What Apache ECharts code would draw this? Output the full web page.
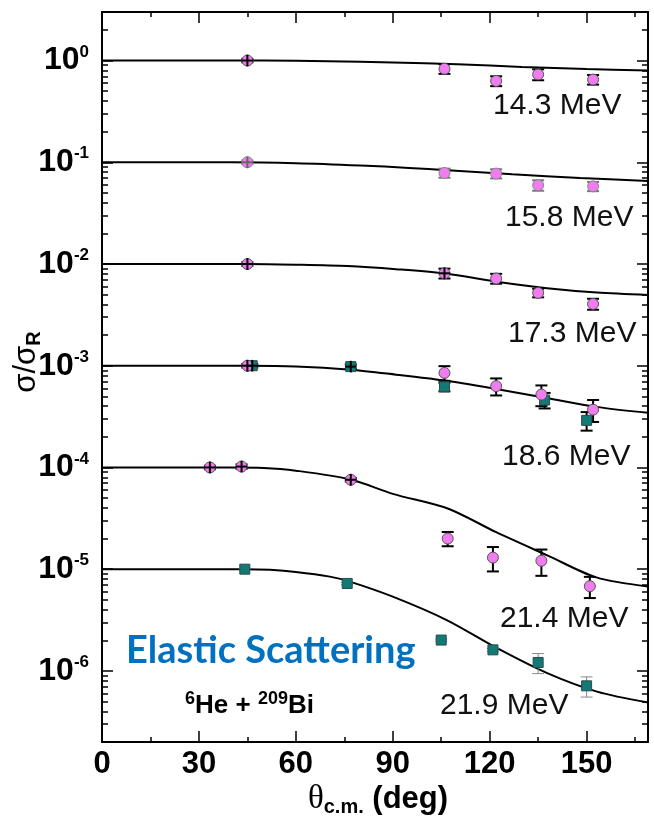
<!DOCTYPE html>
<html><head><meta charset="utf-8">
<script src="https://cdn.jsdelivr.net/npm/echarts@6/dist/echarts.min.js"></script>
<style>html,body{margin:0;padding:0;background:#fff}#c{width:654px;height:826px}</style>
</head><body><div id="c"></div>
<script>
// ---------------- data ----------------
const xMajorTicks = [0, 30, 60, 90, 120, 150];
const xMinorTicks = [15, 45, 75, 105, 135, 165];
const yDecadeExps = [-6, -5, -4, -3, -2, -1, 0];
const energyLabels = ['14.3 MeV', '15.8 MeV', '17.3 MeV', '18.6 MeV', '21.4 MeV', '21.9 MeV'];
const titleText = 'Elastic Scattering';

// theory curves (already offset by decades)
const fit143X = [0, 30, 50, 70, 90, 110, 130, 150, 169];
const fit143Y = [1, 1, 0.998, 0.985, 0.955, 0.92, 0.865, 0.825, 0.80];
const fit158X = [0, 40, 60, 80, 95, 107, 127, 148, 169];
const fit158Y = [0.1, 0.1, 0.098, 0.093, 0.088, 0.0835, 0.0762, 0.070, 0.0656];
const fit173X = [0, 45, 60, 76, 91, 105.6, 122.2, 137.8, 153.2, 169];
const fit173Y = [0.01, 0.01, 0.00985, 0.00955, 0.0089, 0.0081, 0.0067, 0.00578, 0.00524, 0.00497];
const fit186X = [0, 45, 60, 77, 91, 105.5, 122, 137.6, 153, 169];
const fit186Y = [1e-3, 1e-3, 9.85e-4, 9.14e-4, 8.17e-4, 7.18e-4, 5.9e-4, 4.82e-4, 3.94e-4, 3.44e-4];
const fit214X = [0, 40, 50, 60, 77, 90, 107, 122, 138, 153, 169];
const fit214Y = [1e-4, 1e-4, 9.9e-5, 9.3e-5, 7.6e-5, 5.5e-5, 3.95e-5, 2.31e-5, 1.36e-5, 8.3e-6, 6.76e-6];
const fit219X = [0, 44, 52, 60, 70.5, 76.7, 90, 106.7, 122.3, 137.8, 153.2, 169];
const fit219Y = [1e-5, 1e-5, 9.85e-6, 9.4e-6, 8.45e-6, 7.55e-6, 5.37e-6, 3.16e-6, 1.67e-6, 9.5e-7, 6.26e-7, 4.89e-7];

// measured points: angle, value, error, horizontal error (deg)
const p143Theta = [45, 106, 122, 135, 152];
const p143Val = [1.0, 0.83, 0.63, 0.73, 0.65];
const p143Err = [0.04, 0.09, 0.07, 0.09, 0.07];
const p143XErr = [1.8, 0, 0, 0, 0];

const p158Theta = [45, 106, 122, 135, 152];
const p158Val = [0.1, 0.0785, 0.0774, 0.0595, 0.058];
const p158Err = [0.004, 0.008, 0.008, 0.007, 0.006];
const p158XErr = [1.8, 0, 0, 0, 0];

const p173Theta = [45, 106, 122, 135, 152];
const p173Val = [0.01, 0.0081, 0.0072, 0.0052, 0.00405];
const p173Err = [0.0004, 0.0009, 0.0008, 0.0005, 0.0005];
const p173XErr = [1.8, 1.8, 0, 0, 0];

const p186aTheta = [45, 106, 122, 136, 152];
const p186aVal = [1.0e-3, 8.5e-4, 6.3e-4, 5.2e-4, 3.7e-4];
const p186aErr = [4e-5, 1.4e-4, 1.2e-4, 1.2e-4, 9e-5];
const p186aXErr = [1.8, 0, 0, 0, 0];

const p186bTheta = [46.5, 77, 106, 137, 150];
const p186bVal = [1.0e-3, 9.8e-4, 6.2e-4, 4.6e-4, 2.9e-4];
const p186bErr = [4e-5, 5e-5, 6e-5, 8e-5, 6e-5];
const p186bXErr = [1.8, 1.8, 0, 0, 0];

const p214Theta = [33.4, 43.2, 77, 107, 121, 136, 151];
const p214Val = [1.0e-4, 1.02e-4, 7.57e-5, 2.0e-5, 1.3e-5, 1.21e-5, 6.8e-6];
const p214Err = [4e-6, 5e-6, 3e-6, 3.2e-6, 3.5e-6, 3.5e-6, 1.6e-6];
const p214XErr = [1.8, 1.8, 1.8, 0, 0, 0, 0];

const p219Theta = [44.2, 75.9, 105, 121, 135, 150];
const p219Val = [1.0e-5, 7.24e-6, 2.01e-6, 1.61e-6, 1.21e-6, 7.13e-7];
const p219Err = [2e-7, 2e-7, 5e-8, 5e-8, 2.7e-7, 1.6e-7];
const p219XErr = [0, 0, 0, 0, 0, 0];

// ---------------- chart ----------------
const L = v => Math.log10(v);
const Y_MIN = L(2e-7), Y_MAX = L(3), X_MIN = 0, X_MAX = 169;
const PINK = '#F07DF0', TEAL = '#117A76';

const yMinorVals = [];
for (let n = -7; n <= 0; n++) for (let k = 2; k <= 9; k++) {
  const v = L(k * Math.pow(10, n));
  if (v > Y_MIN && v < Y_MAX) yMinorVals.push(v);
}

function fitSeries(xs, ys) {
  return { type: 'line', data: xs.map((x, i) => [x, L(ys[i])]), smooth: 0.3,
    symbol: 'none', showSymbol: false, lineStyle: { color: '#000', width: 2 }, z: 2, silent: true };
}
function markSeries(xs, ys, symbol, color, border, size) {
  return { type: 'scatter', data: xs.map((x, i) => [x, L(ys[i])]), symbol: symbol, symbolSize: size,
    itemStyle: { color: color, borderColor: border, borderWidth: 1, opacity: 1 }, z: 4, silent: true };
}
function errSeries(xs, ys, es, color, lw) {
  return { type: 'custom', z: 3, silent: true,
    data: xs.map((x, i) => [x, L(ys[i] - es[i]), L(ys[i] + es[i])]),
    encode: { x: 0, y: [1, 2] },
    renderItem: function (params, api) {
      const x = api.value(0);
      const p1 = api.coord([x, api.value(2)]), p2 = api.coord([x, api.value(1)]);
      const w = 6, st = { stroke: color, lineWidth: lw };
      return { type: 'group', children: [
        { type: 'line', shape: { x1: p1[0], y1: p1[1], x2: p2[0], y2: p2[1] }, style: st },
        { type: 'line', shape: { x1: p1[0] - w, y1: p1[1], x2: p1[0] + w, y2: p1[1] }, style: st },
        { type: 'line', shape: { x1: p2[0] - w, y1: p2[1], x2: p2[0] + w, y2: p2[1] }, style: st }
      ] };
    } };
}
function crossSeries(xs, ys, xe, color) {
  const d = [];
  xs.forEach((x, i) => { if (xe[i] > 0) d.push([x, L(ys[i]), xe[i]]); });
  return { type: 'custom', z: 5, silent: true, data: d, encode: { x: 0, y: 1 },
    renderItem: function (params, api) {
      const x = api.value(0), y = api.value(1), e = api.value(2);
      const a = api.coord([x - e, y]), b = api.coord([x + e, y]);
      const h = (b[0] - a[0]) / 2, c = api.coord([x, y]);
      const st = { stroke: color, lineWidth: 2 };
      return { type: 'group', children: [
        { type: 'line', shape: { x1: a[0], y1: a[1], x2: b[0], y2: b[1] }, style: st },
        { type: 'line', shape: { x1: c[0], y1: c[1] - h, x2: c[0], y2: c[1] + h }, style: st }
      ] };
    } };
}

const axisLineStyle = { show: true, onZero: false, lineStyle: { color: '#000', width: 2 } };
const noLine = { show: false, onZero: false };
const tickStyle = { color: '#000', width: 1.5 };

function xAx(pos, vals, len, labels) {
  return { type: 'value', position: pos, min: X_MIN, max: X_MAX, gridIndex: 0,
    axisLine: labels !== null ? axisLineStyle : noLine,
    axisTick: { show: true, inside: true, length: len, customValues: vals, lineStyle: tickStyle },
    axisLabel: labels ? { show: true, customValues: xMajorTicks, margin: 7, color: '#000',
      fontFamily: 'Liberation Sans', fontWeight: 'bold', fontSize: 31 } : { show: false },
    splitLine: { show: false }, minorTick: { show: false } };
}
function yAx(pos, vals, len, labels) {
  return { type: 'value', position: pos, min: Y_MIN, max: Y_MAX, gridIndex: 0,
    axisLine: labels !== null ? axisLineStyle : noLine,
    axisTick: { show: true, inside: true, length: len, customValues: vals, lineStyle: tickStyle },
    axisLabel: labels ? { show: true, customValues: yDecadeExps, margin: 13, color: '#000',
      formatter: v => '{b|10}{s|' + Math.round(v) + '}',
      rich: { b: { fontFamily: 'Liberation Sans', fontWeight: 'bold', fontSize: 32, lineHeight: 34, color: '#000' },
              s: { fontFamily: 'Liberation Sans', fontWeight: 'bold', fontSize: 17, lineHeight: 26, verticalAlign: 'top', color: '#000' } } }
      : { show: false },
    splitLine: { show: false }, minorTick: { show: false } };
}

const series = [
  fitSeries(fit143X, fit143Y), fitSeries(fit158X, fit158Y), fitSeries(fit173X, fit173Y),
  fitSeries(fit186X, fit186Y), fitSeries(fit214X, fit214Y), fitSeries(fit219X, fit219Y),
  errSeries(p143Theta, p143Val, p143Err, '#000', 2),
  errSeries(p158Theta, p158Val, p158Err, '#777', 2),
  errSeries(p173Theta, p173Val, p173Err, '#000', 2),
  errSeries(p186aTheta, p186aVal, p186aErr, '#000', 2),
  errSeries(p186bTheta, p186bVal, p186bErr, '#000', 2),
  errSeries(p214Theta, p214Val, p214Err, '#000', 2),
  errSeries(p219Theta, p219Val, p219Err, '#888', 1),
  markSeries(p143Theta, p143Val, 'circle', PINK, '#555', 11),
  markSeries(p158Theta, p158Val, 'circle', PINK, '#888', 11),
  markSeries(p173Theta, p173Val, 'circle', PINK, '#555', 11),
  markSeries(p186bTheta, p186bVal, 'rect', TEAL, '#2b4b4a', 10),
  markSeries(p186aTheta, p186aVal, 'circle', PINK, '#555', 11),
  markSeries(p214Theta, p214Val, 'circle', PINK, '#555', 11),
  markSeries(p219Theta, p219Val, 'rect', TEAL, '#2b4b4a', 10),
  crossSeries(p143Theta, p143Val, p143XErr, '#000'),
  crossSeries(p158Theta, p158Val, p158XErr, '#666'),
  crossSeries(p173Theta, p173Val, p173XErr, '#000'),
  crossSeries(p186aTheta, p186aVal, p186aXErr, '#000'),
  crossSeries(p186bTheta, p186bVal, p186bXErr, '#000'),
  crossSeries(p214Theta, p214Val, p214XErr, '#000')
];

const labelPos = [[493, 106], [505, 218], [508, 334], [502, 457], [500, 619], [440, 706]];
const graphics = energyLabels.map((t, i) => ({ type: 'text', x: labelPos[i][0], y: labelPos[i][1], z: 10,
  style: { text: t, fill: '#111', fontFamily: 'Liberation Sans', fontSize: 30, align: 'left', verticalAlign: 'middle' } }));
graphics.push({ type: 'text', x: 126, y: 651, z: 10,
  style: { text: titleText, fill: '#0070C0', fontFamily: 'Lato', fontWeight: 'bold', fontSize: 38, align: 'left', verticalAlign: 'middle' } });
graphics.push({ type: 'text', x: 185, y: 706, z: 10,
  style: { text: '{s|6}{m|He + }{s|209}{m|Bi}', align: 'left', verticalAlign: 'middle',
    rich: { s: { fontFamily: 'Liberation Sans', fontWeight: 'bold', fontSize: 18, lineHeight: 32, verticalAlign: 'top', fill: '#000' },
            m: { fontFamily: 'Liberation Sans', fontWeight: 'bold', fontSize: 26, lineHeight: 32, fill: '#000' } } } });
graphics.push({ type: 'text', x: 378, y: 799, z: 10,
  style: { text: '{t|θ}{c|c.m.}{d| (deg)}', align: 'center', verticalAlign: 'middle',
    rich: { t: { fontFamily: 'Liberation Serif', fontSize: 33, lineHeight: 36, fill: '#000' },
            c: { fontFamily: 'Liberation Sans', fontWeight: 'bold', fontSize: 20, lineHeight: 36, verticalAlign: 'bottom', fill: '#000' },
            d: { fontFamily: 'Liberation Sans', fontWeight: 'bold', fontSize: 31, lineHeight: 36, fill: '#000' } } } });
graphics.push({ type: 'text', x: 26, y: 362, rotation: Math.PI / 2, z: 10,
  style: { text: '{a|σ/σ}{r|R}', align: 'center', verticalAlign: 'middle',
    rich: { a: { fontFamily: 'Liberation Sans', fontSize: 31, lineHeight: 36, fill: '#000' },
            r: { fontFamily: 'Liberation Sans', fontWeight: 'bold', fontSize: 20, lineHeight: 36, verticalAlign: 'bottom', fill: '#000' } } } });

const chart = echarts.init(document.getElementById('c'), null, { renderer: 'canvas' });
chart.setOption({
  animation: false,
  backgroundColor: '#fff',
  grid: { left: 102, right: 6, top: 12, bottom: 84, containLabel: false },
  xAxis: [
    xAx('bottom', xMajorTicks, 11, true),
    xAx('bottom', xMinorTicks, 5, null),
    xAx('top', xMajorTicks, 11, false),
    xAx('top', xMinorTicks, 5, null)
  ],
  yAxis: [
    yAx('left', yDecadeExps, 11, true),
    yAx('left', yMinorVals, 6, null),
    yAx('right', yDecadeExps, 11, false),
    yAx('right', yMinorVals, 6, null)
  ],
  series: series,
  graphic: graphics
});
</script></body></html>
